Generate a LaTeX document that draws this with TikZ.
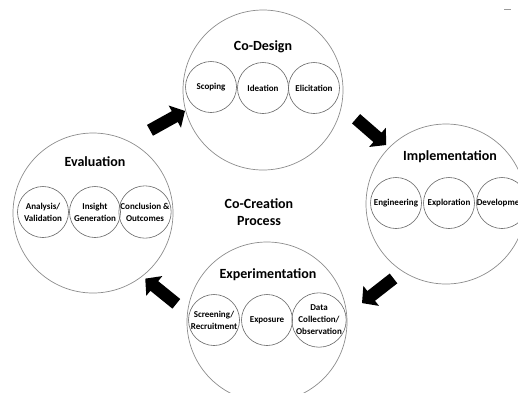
\documentclass[tikz,border=0pt]{standalone}
\usepackage{fontspec}
\setmainfont{Carlito}
\usetikzlibrary{shapes.arrows}

\begin{document}
\begin{tikzpicture}[x=1pt,y=-1pt]
      \clip (0,0) rectangle (518,392);
      \tikzset{Big/.style = {shape=circle, draw=black!45, line width=0.7pt, minimum size=160pt, inner sep=0pt}}
      \tikzset{Sub/.style = {shape=circle, draw=black!60, line width=0.6pt, minimum size=51pt, inner sep=0pt, align=center, text=black, font=\bfseries\fontsize{9}{12}\selectfont}}
      \tikzset{Head/.style = {text=black, font=\bfseries\fontsize{14}{17}\selectfont, align=center}}
      \tikzset{Flow/.style = {single arrow, fill=black, draw=none, minimum height=40pt, inner xsep=0pt, inner ysep=6pt, single arrow head extend=6.5pt, single arrow tip angle=95}}
      % the four stages
      \node[Big](cd) at (263,90) {};
      \node[Big](im) at (446,204) {};
      \node[Big](ev) at (93,213) {};
      \node[Big](ex) at (267,322) {};
      \node[Head](cdt) at (263,47) {Co-Design};
      \node[Head](imt) at (450,157) {Implementation};
      \node[Head](evt) at (95,162) {Evaluation};
      \node[Head](ext) at (268,275) {Experimentation};
      \node[Head](cc) at (259,212) {Co-Creation\\Process};
      % activities inside each stage
      \node[Sub](cd1) at (211,87) {Scoping};
      \node[Sub](cd2) at (263,88) {Ideation};
      \node[Sub](cd3) at (314,88) {Elicitation};
      \node[Sub](im1) at (396,203) {Engineering};
      \node[Sub](im2) at (449,203) {Exploration};
      \node[Sub](im3) at (502,203) {Development};
      \node[Sub](ev1) at (43,212) {Analysis/\\Validation};
      \node[Sub](ev2) at (95,212) {Insight\\Generation};
      \node[Sub](ev3) at (145,212) {Conclusion \&\\Outcomes};
      \node[Sub](ex1) at (214,320) {Screening/\\Recruitment};
      \node[Sub](ex2) at (267,320) {Exposure};
      \node[Sub](ex3) at (319,320) {Data\\Collection/\\Observation};
      % cycle arrows
      \node[Flow,rotate=29](f1) at (165,122) {};
      \node[Flow,rotate=-41](f2) at (369,130) {};
      \node[Flow,rotate=-142](f3) at (380,289) {};
      \node[Flow,rotate=141](f4) at (163,293) {};
      \draw[black!40,line width=1pt](504,9) -- (511,9);
    \end{tikzpicture}
\end{document}
